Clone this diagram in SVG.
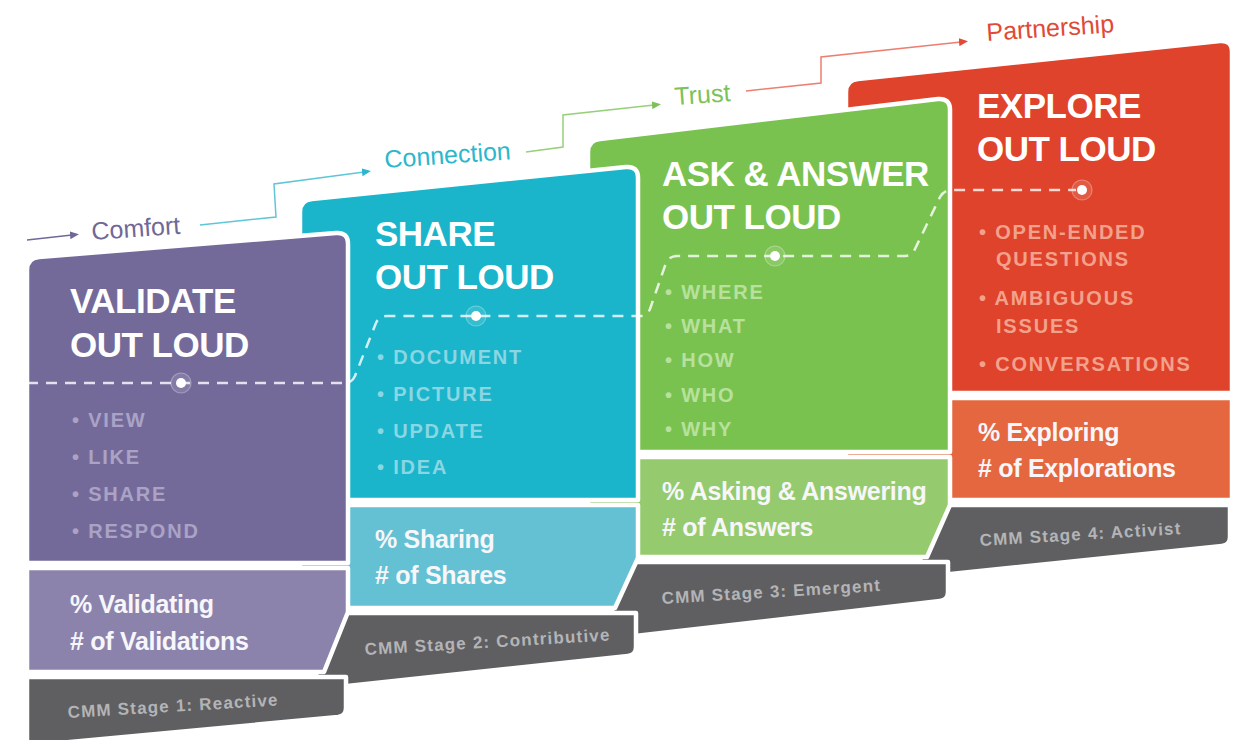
<svg xmlns="http://www.w3.org/2000/svg" width="1236" height="740" viewBox="0 0 1236 740">
<defs>
<style>
.card{stroke:#fff;stroke-width:4.5;stroke-linejoin:round}
.title{font-family:"Liberation Sans",Arial,sans-serif;font-weight:700;font-size:35px;fill:#fff;letter-spacing:-0.5px}
.item{font-family:"Liberation Sans",Arial,sans-serif;font-weight:700;font-size:20px;letter-spacing:1.8px}
.metric{font-family:"Liberation Sans",Arial,sans-serif;font-weight:700;font-size:25px;fill:#f7f6fa;letter-spacing:-0.3px}
.stage{font-family:"Liberation Sans",Arial,sans-serif;font-weight:700;font-size:17px;fill:#b4b4b6;letter-spacing:1.2px}
.lbl{font-family:"Liberation Sans",Arial,sans-serif;font-size:25px}
.gray{fill:#5f5f62}
.step{fill:none;stroke-width:1.5}
.dash{fill:none;stroke:#fff;stroke-opacity:.8;stroke-width:2.5;stroke-dasharray:11 8}
.halo{fill:#fff;fill-opacity:.12;stroke:#fff;stroke-opacity:.3;stroke-width:1.2}
.dot{fill:#fff}
</style>
<marker id="ahP" markerUnits="userSpaceOnUse" markerWidth="10" markerHeight="8" refX="2" refY="4" orient="auto"><path d="M0,0 L9,4 L0,8 Z" fill="#6f6898"/></marker>
<marker id="ahT" markerUnits="userSpaceOnUse" markerWidth="10" markerHeight="8" refX="2" refY="4" orient="auto"><path d="M0,0 L9,4 L0,8 Z" fill="#2db7cc"/></marker>
<marker id="ahG" markerUnits="userSpaceOnUse" markerWidth="10" markerHeight="8" refX="2" refY="4" orient="auto"><path d="M0,0 L9,4 L0,8 Z" fill="#7cc259"/></marker>
<marker id="ahR" markerUnits="userSpaceOnUse" markerWidth="10" markerHeight="8" refX="2" refY="4" orient="auto"><path d="M0,0 L9,4 L0,8 Z" fill="#e04a36"/></marker>
</defs>
<rect width="1236" height="740" fill="#fff"/>

<g id="stage4-explore">
<path class="card gray" d="M944,505 L1230,505 L1230,537 Q1230,545 1222,546 L912,578 Z"/>
<path class="card" fill="#e4673f" d="M846,398 L1232,398 L1232,500 L846,500 Z"/>
<path class="card" fill="#df432b" d="M846,393 L846,92 Q846,80 858,79 L1220,41 Q1232,40 1232,52 L1232,393 Z"/>
<text class="title" x="977" y="118">EXPLORE</text>
<text class="title" x="977" y="161">OUT LOUD</text>
<g class="item" fill="#f2a28c">
<text x="979" y="239">• OPEN-ENDED</text>
<text x="996" y="266">QUESTIONS</text>
<text x="979" y="305">• AMBIGUOUS</text>
<text x="996" y="333">ISSUES</text>
<text x="979" y="371">• CONVERSATIONS</text>
</g>
<text class="metric" x="978" y="441">% Exploring</text>
<text class="metric" x="978" y="477"># of Explorations</text>
<text class="stage" x="980" y="546" transform="rotate(-3.4 980 546)">CMM Stage 4: Activist</text>
</g>

<g id="stage3-ask">
<path class="card gray" d="M632,562 L948,562 L948,592 Q948,600 940,601 L600,640 Z"/>
<path class="card" fill="#95cb6e" d="M588,457 L950,457 L950,505 L927,557 L588,557 Z"/>
<path class="card" fill="#7ac250" d="M588,452 L588,152 Q588,140 600,139 L938,99 Q950,98 950,110 L950,452 Z"/>
<text class="title" x="662" y="186">ASK &amp; ANSWER</text>
<text class="title" x="662" y="229">OUT LOUD</text>
<g class="item" fill="#b7e19c">
<text x="665" y="299">• WHERE</text>
<text x="665" y="333">• WHAT</text>
<text x="665" y="367">• HOW</text>
<text x="665" y="402">• WHO</text>
<text x="665" y="436">• WHY</text>
</g>
<text class="metric" x="662" y="500">% Asking &amp; Answering</text>
<text class="metric" x="662" y="536"># of Answers</text>
<text class="stage" x="662" y="604" transform="rotate(-3.4 662 604)">CMM Stage 3: Emergent</text>
</g>

<g id="stage2-share">
<path class="card gray" d="M340,613 L636,613 L636,647 Q636,655 628,656 L310,690 Z"/>
<path class="card" fill="#63c1d3" d="M300,505 L638,505 L638,558 L615,608 L300,608 Z"/>
<path class="card" fill="#1ab4cb" d="M300,500 L300,212 Q300,200 312,199 L626,167 Q638,166 638,178 L638,500 Z"/>
<text class="title" x="375" y="246">SHARE</text>
<text class="title" x="375" y="289">OUT LOUD</text>
<g class="item" fill="#8ad6e3">
<text x="377" y="364">• DOCUMENT</text>
<text x="377" y="401">• PICTURE</text>
<text x="377" y="438">• UPDATE</text>
<text x="377" y="474">• IDEA</text>
</g>
<text class="metric" x="375" y="548">% Sharing</text>
<text class="metric" x="375" y="584"># of Shares</text>
<text class="stage" x="365" y="655" transform="rotate(-3.4 365 655)">CMM Stage 2: Contributive</text>
</g>

<g id="stage1-validate">
<path class="card gray" d="M27,677 L346,677 L346,708 Q346,716 338,717 L27,746 Z"/>
<path class="card" fill="#8c83ad" d="M27,568 L348,568 L348,612 L324,672 L27,672 Z"/>
<path class="card" fill="#746a9a" d="M27,563 L27,270 Q27,258 39,257 L336,233 Q348,232 348,244 L348,563 Z"/>
<text class="title" x="70" y="313">VALIDATE</text>
<text class="title" x="70" y="357">OUT LOUD</text>
<g class="item" fill="#aaa3c6">
<text x="72" y="427">• VIEW</text>
<text x="72" y="464">• LIKE</text>
<text x="72" y="501">• SHARE</text>
<text x="72" y="538">• RESPOND</text>
</g>
<text class="metric" x="70" y="613">% Validating</text>
<text class="metric" x="70" y="650"># of Validations</text>
<text class="stage" x="68" y="718" transform="rotate(-3.4 68 718)">CMM Stage 1: Reactive</text>
</g>

<g id="connectors">
<path class="dash" d="M27,383 L345,383 Q352,383 355,376 L376,323 Q379,316 387,316 L640,316 Q647,316 650,309 L666,263 Q669,256 677,256 L905,256 Q912,256 915,249 L940,197 Q944,190 952,190 L1076,190"/>
<circle class="halo" cx="181" cy="383" r="10"/><circle class="dot" cx="181" cy="383" r="5"/>
<circle class="halo" cx="476" cy="316" r="10"/><circle class="dot" cx="476" cy="316" r="5"/>
<circle class="halo" cx="775" cy="256" r="10"/><circle class="dot" cx="775" cy="256" r="5"/>
<circle class="halo" cx="1082" cy="190" r="10"/><circle class="dot" cx="1082" cy="190" r="5"/>
<path class="step" stroke="#6f6898" marker-end="url(#ahP)" d="M27,240 L72,235"/>
<path class="step" stroke="#5fc6d8" marker-end="url(#ahT)" d="M200,225 L276,217 L274,184 L364,172"/>
<path class="step" stroke="#98d07a" marker-end="url(#ahG)" d="M526,152 L563,147 L563,115 L654,105"/>
<path class="step" stroke="#ec7f6f" marker-end="url(#ahR)" d="M746,91 L821,83 L821,57 L961,42"/>
</g>

<g id="labels">
<text class="lbl" fill="#6f6898" x="92" y="240" transform="rotate(-4 92 240)">Comfort</text>
<text class="lbl" fill="#2db7cc" x="385" y="168" transform="rotate(-4 385 168)">Connection</text>
<text class="lbl" fill="#7cc259" x="675" y="105" transform="rotate(-4 675 105)">Trust</text>
<text class="lbl" fill="#e04a36" x="987" y="41" transform="rotate(-4 987 41)">Partnership</text>
</g>
</svg>
